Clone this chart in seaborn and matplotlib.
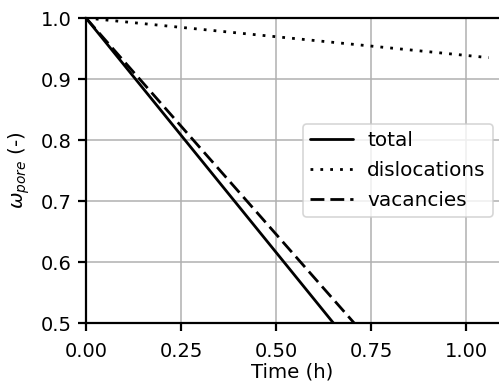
import numpy as np
import pandas as pd
import matplotlib
matplotlib.use("Agg")
import matplotlib.pyplot as plt
import seaborn as sns

# Pore fraction over time, split by contributing mechanism
time_h = [0.0, 1.06]
total = [1.0, 0.186]
dislocations = [1.0, 0.935]
vacancies = [1.0, 0.249]

series = ["total", "dislocations", "vacancies"]
styles = {
    "total": "-",
    "dislocations": (0, (1.0, 2.55)),
    "vacancies": (0, (5.0, 2.15)),
}

df = pd.DataFrame({
    "Time (h)": time_h * 3,
    "omega": total + dislocations + vacancies,
    "series": sum([[s] * len(time_h) for s in series], []),
})

sns.set_theme(style="whitegrid")
plt.rcParams["font.family"] = ["DejaVu Sans"]
plt.rcParams["mathtext.fontset"] = "dejavusans"
plt.rcParams["text.color"] = "black"
plt.rcParams["axes.labelcolor"] = "black"
plt.rcParams["xtick.color"] = "black"
plt.rcParams["ytick.color"] = "black"

fig = plt.figure(figsize=(4.99, 3.88), dpi=100)
ax = fig.add_axes([0.1723, 0.1675, 0.8277, 0.7861])

for s in series:
    sub = df[df["series"] == s]
    sns.lineplot(data=sub, x="Time (h)", y="omega", ax=ax, color="black",
                 linestyle=styles[s], linewidth=2, label=s)

ax.set_xlim(0, 1.087)
ax.set_ylim(0.5, 1.0)
ax.set_xticks([0.0, 0.25, 0.5, 0.75, 1.0])
ax.set_xticklabels(["0.00", "0.25", "0.50", "0.75", "1.00"])
ax.set_yticks([0.5, 0.6, 0.7, 0.8, 0.9, 1.0])
ax.set_yticklabels(["0.5", "0.6", "0.7", "0.8", "0.9", "1.0"])
ax.set_xlabel("Time (h)", fontsize=14.2, labelpad=1)
ax.set_ylabel(r"$\omega_{pore}$ (-)", fontsize=14.2, labelpad=6)

ax.grid(True, color="#b0b0b0", linewidth=1.1)
for sp in ax.spines.values():
    sp.set_color("black")
    sp.set_linewidth(1.6)
ax.spines["right"].set_visible(False)
ax.tick_params(axis="both", which="major", direction="out", length=5.5, width=1.6,
               color="black", labelsize=14, labelcolor="black",
               bottom=True, left=True)
ax.tick_params(axis="x", pad=8)
ax.tick_params(axis="y", pad=5)

leg = ax.legend(loc="center right", bbox_to_anchor=(0.985, 0.5), borderaxespad=0,
                fontsize=14.4, frameon=True, handlelength=2.15, handletextpad=0.72,
                borderpad=0.35, labelspacing=0.55)
leg.get_frame().set_edgecolor("#cccccc")
leg.get_frame().set_linewidth(1.2)

fig.savefig("out.png", dpi=100)
